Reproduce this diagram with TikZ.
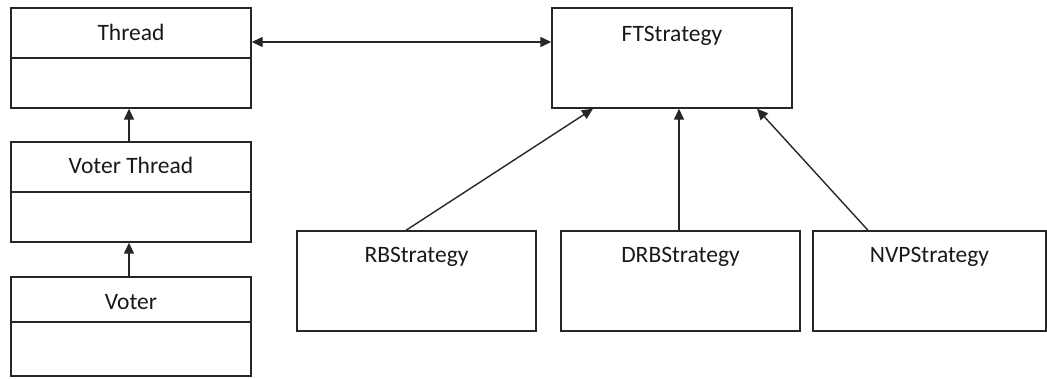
\documentclass[tikz,border=0pt]{standalone}
\usepackage{fontspec}
\setmainfont{Carlito}
\usetikzlibrary{arrows.meta}
\begin{document}
\begin{tikzpicture}[x=1pt,y=-1pt,
  box/.style={draw=black!85, line width=1.4pt, rectangle, inner sep=0pt, fill=white},
  lbl/.style={anchor=base, inner sep=0pt, text=black!90, font=\fontsize{23.5}{28}\selectfont},
  conn/.style={draw=black!85, line width=1.4pt},
  tip/.style={-{Triangle[length=11pt,width=10pt]}},
  both/.style={{Triangle[length=11pt,width=10pt]}-{Triangle[length=11pt,width=10pt]}}]
\useasboundingbox (0,0) rectangle (1047,378);
% class boxes (left)
\node[box, minimum width=240pt, minimum height=100pt] (thread) at (131,58) {};
\node[box, minimum width=240pt, minimum height=100pt] (vthread) at (131,192) {};
\node[box, minimum width=240pt, minimum height=99pt] (voter) at (131,326.5) {};
\draw[conn] (thread.west) -- (thread.east);
\draw[conn] (vthread.west) -- (vthread.east);
\draw[conn] ([yshift=4.5pt]voter.west) -- ([yshift=4.5pt]voter.east);
\node[lbl] (tthread) at ([yshift=-33pt]thread.north) {Thread};
\node[lbl] (tvthread) at ([yshift=-32pt]vthread.north) {Voter Thread};
\node[lbl] (tvoter) at ([yshift=-33pt]voter.north) {Voter};
% strategy boxes
\node[box, minimum width=240pt, minimum height=100pt] (ft) at (672,58) {};
\node[box, minimum width=239pt, minimum height=100pt] (rb) at (416.5,281) {};
\node[box, minimum width=239pt, minimum height=100pt] (drb) at (680.5,281) {};
\node[box, minimum width=233pt, minimum height=100pt] (nvp) at (929.5,281) {};
\node[lbl] (tft) at ([yshift=-34pt]ft.north) {FTStrategy};
\node[lbl] (trb) at ([yshift=-32pt]rb.north) {RBStrategy};
\node[lbl] (tdrb) at ([yshift=-32pt]drb.north) {DRBStrategy};
\node[lbl] (tnvp) at ([yshift=-32pt]nvp.north) {NVPStrategy};
% connectors
\draw[conn, both] ([yshift=16pt]thread.east) -- ([yshift=16pt]ft.west);
\draw[conn, tip] ([xshift=-2pt]vthread.north) -- ([xshift=-2pt]thread.south);
\draw[conn, tip] ([xshift=-2pt]voter.north) -- ([xshift=-2pt]vthread.south);
\draw[conn, tip] ([xshift=-10.5pt]rb.north) -- ([xshift=-79pt]ft.south);
\draw[conn, tip] ([xshift=-1.5pt]drb.north) -- ([xshift=7pt]ft.south);
\draw[conn, tip] ([xshift=-61.5pt]nvp.north) -- ([xshift=85pt]ft.south);
\end{tikzpicture}
\end{document}
